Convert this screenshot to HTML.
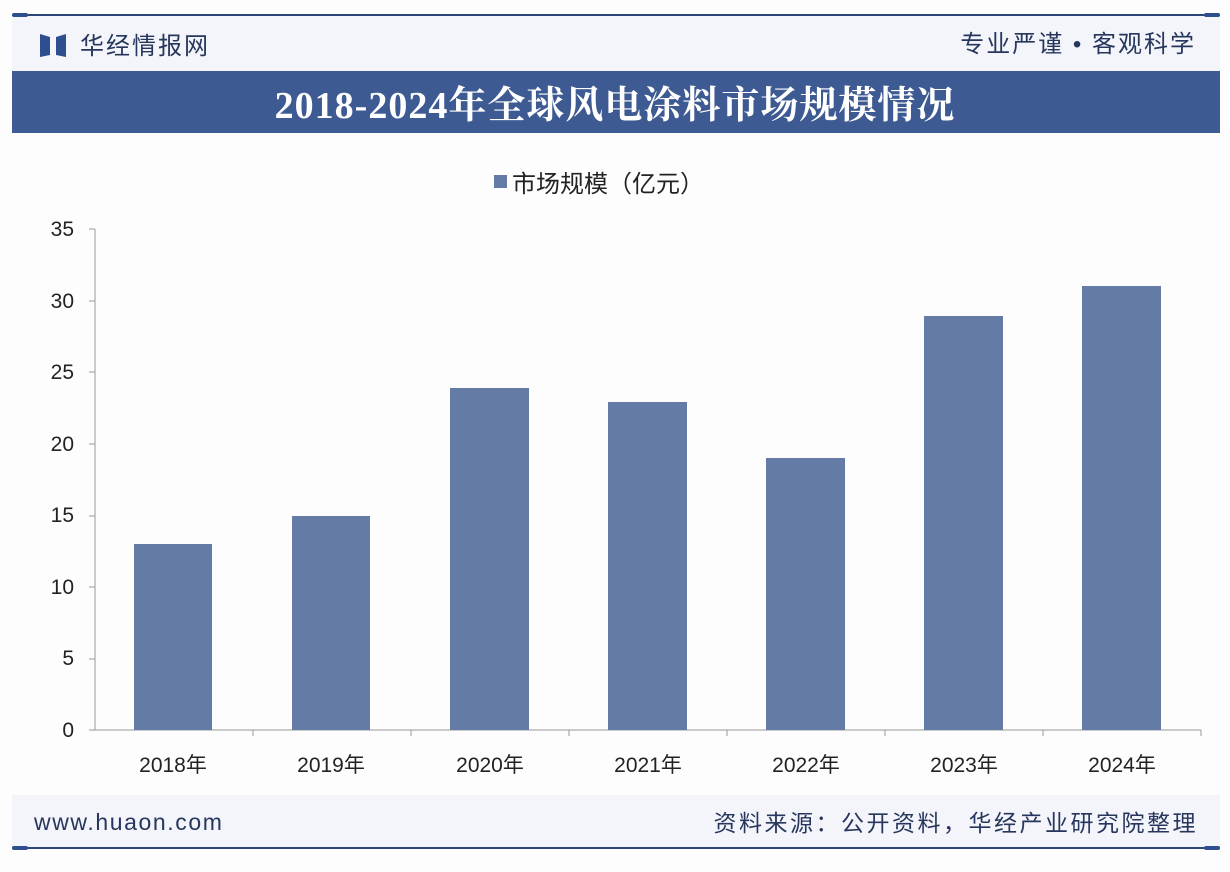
<!DOCTYPE html>
<html><head><meta charset="utf-8"><style>
body{margin:0;width:1230px;height:872px;background:#fff;overflow:hidden}
svg{display:block;font-family:"Liberation Sans","Noto Sans CJK SC",sans-serif}
</style></head><body>
<svg width="1230" height="872" viewBox="0 0 1230 872">
<rect x="0" y="0" width="1230" height="872" fill="#fdfdfe"/>
<rect x="12" y="15" width="1208" height="56" fill="#f3f5fa"/>
<line x1="12" y1="15" x2="1220" y2="15" stroke="#2e4677" stroke-width="2"/>
<rect x="12" y="13" width="16" height="4" rx="2" fill="#2e4f8f"/>
<rect x="1204" y="13" width="16" height="4" rx="2" fill="#2e4f8f"/>
<path d="M40 34 L50 37 L50 55 L40 57 Z" fill="#2d4f90"/>
<path d="M66 34 L56 37 L56 55 L66 57 Z" fill="#2d4f90"/>
<text x="80" y="54" font-size="24" fill="#27365c" letter-spacing="2">华经情报网</text>
<text x="1196" y="52" font-size="24" fill="#27365c" text-anchor="end" letter-spacing="2">专业严谨 • 客观科学</text>
<rect x="12" y="71" width="1208" height="62" fill="#3e5a92"/>
<text x="615" y="118" font-size="38" font-weight="bold" fill="#fff" text-anchor="middle" letter-spacing="1" font-family="'Liberation Serif','Noto Serif CJK SC',serif">2018-2024年全球风电涂料市场规模情况</text>
<rect x="494" y="175" width="13" height="13" fill="#647ba6"/>
<text x="512" y="192" font-size="24" fill="#222">市场规模（亿元）</text>
<g font-size="21" fill="#222" text-anchor="end">
<text x="74" y="737">0</text><text x="74" y="665">5</text><text x="74" y="594">10</text>
<text x="74" y="522">15</text><text x="74" y="451">20</text><text x="74" y="379">25</text>
<text x="74" y="308">30</text><text x="74" y="236">35</text>
</g>
<g stroke="#999" stroke-width="1">
<line x1="95" y1="229" x2="95" y2="730"/>
<line x1="95" y1="730" x2="1201" y2="730"/>
<line x1="89" y1="229" x2="95" y2="229"/><line x1="89" y1="301" x2="95" y2="301"/>
<line x1="89" y1="372" x2="95" y2="372"/><line x1="89" y1="444" x2="95" y2="444"/>
<line x1="89" y1="516" x2="95" y2="516"/><line x1="89" y1="587" x2="95" y2="587"/>
<line x1="89" y1="659" x2="95" y2="659"/><line x1="89" y1="730" x2="95" y2="730"/>
<line x1="253" y1="730" x2="253" y2="736"/><line x1="411" y1="730" x2="411" y2="736"/>
<line x1="569" y1="730" x2="569" y2="736"/><line x1="727" y1="730" x2="727" y2="736"/>
<line x1="885" y1="730" x2="885" y2="736"/><line x1="1043" y1="730" x2="1043" y2="736"/>
<line x1="1201" y1="730" x2="1201" y2="736"/>
</g>
<g fill="#647ba6">
<rect x="134" y="544" width="78" height="186"/>
<rect x="292" y="516" width="78" height="214"/>
<rect x="450" y="388" width="79" height="342"/>
<rect x="608" y="402" width="79" height="328"/>
<rect x="766" y="458" width="79" height="272"/>
<rect x="924" y="316" width="79" height="414"/>
<rect x="1082" y="286" width="79" height="444"/>
</g>
<g font-size="21" fill="#222" text-anchor="middle">
<text x="173" y="772">2018年</text><text x="331" y="772">2019年</text>
<text x="490" y="772">2020年</text><text x="648" y="772">2021年</text>
<text x="806" y="772">2022年</text><text x="964" y="772">2023年</text>
<text x="1122" y="772">2024年</text>
</g>
<rect x="12" y="795" width="1208" height="53" fill="#f3f5fa"/>
<line x1="12" y1="848" x2="1220" y2="848" stroke="#2e4677" stroke-width="2"/>
<rect x="12" y="846" width="16" height="4" rx="2" fill="#2e4f8f"/>
<rect x="1204" y="846" width="16" height="4" rx="2" fill="#2e4f8f"/>
<text x="34" y="830" font-size="23" fill="#27365c" letter-spacing="1.6">www.huaon.com</text>
<text x="1198" y="831" font-size="23" fill="#27365c" text-anchor="end" letter-spacing="2.5">资料来源：公开资料，华经产业研究院整理</text>
</svg>
</body></html>
